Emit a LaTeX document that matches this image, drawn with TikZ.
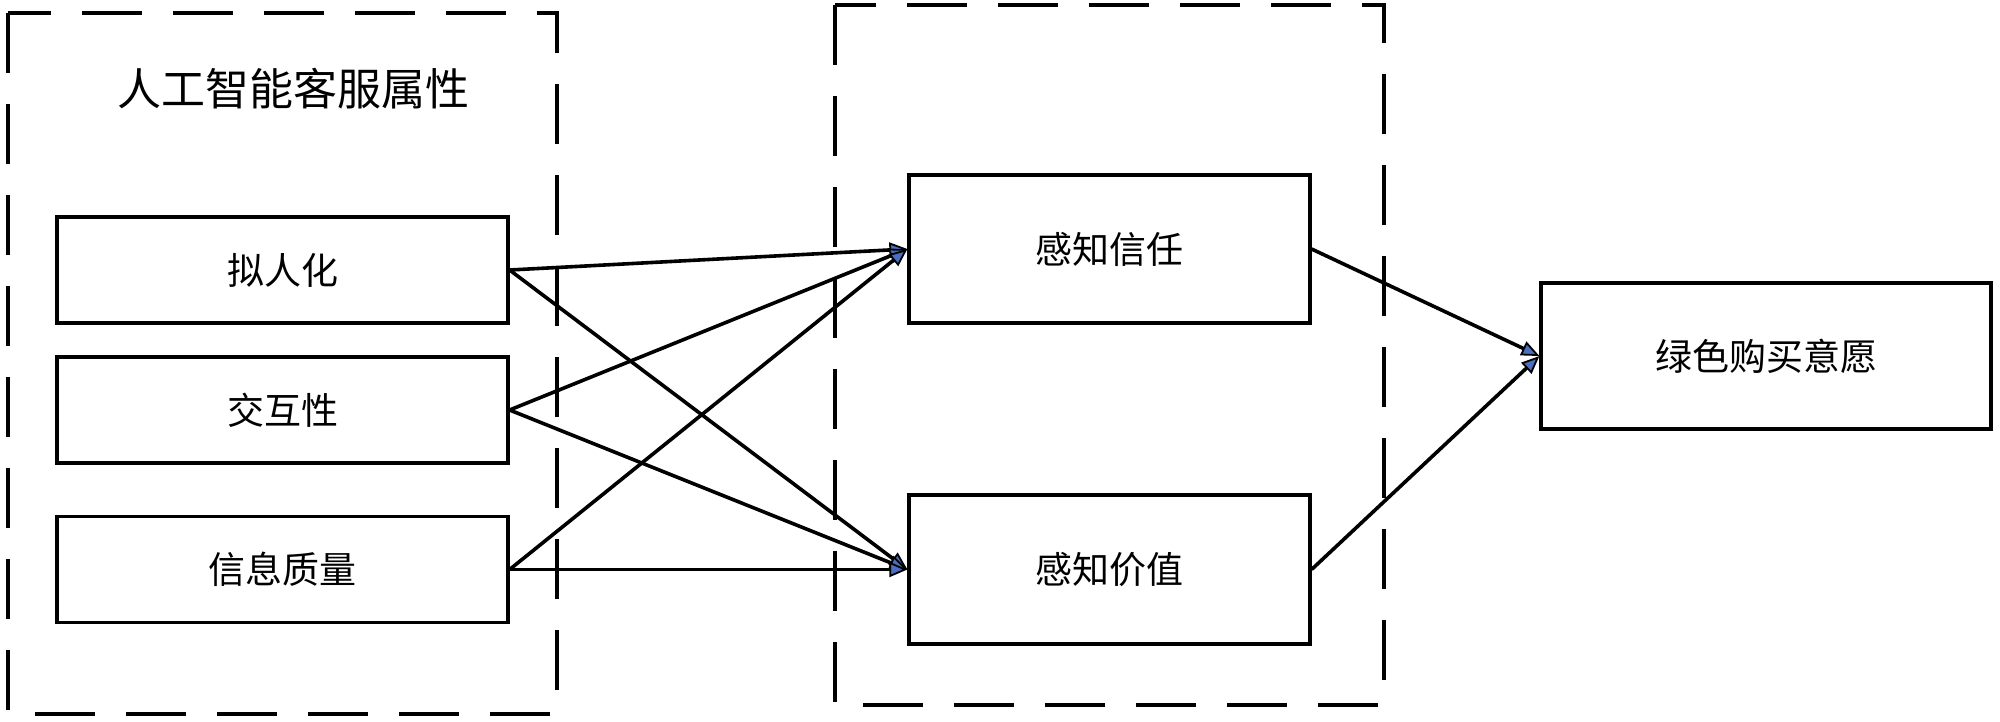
\documentclass[tikz,border=0pt]{standalone}
\usepackage{fontspec}
\newfontfamily\cjk{Noto Sans CJK SC}
\usetikzlibrary{arrows.meta}
\definecolor{tipblue}{HTML}{4A6FC0}
\tikzset{
  box/.style={draw=black, line width=3.2pt, minimum width=452pt, minimum height=106pt, inner sep=0pt, font=\cjk\fontsize{37}{40}\selectfont},
  group/.style={draw=black, line width=4pt, dash pattern=on 60pt off 31pt},
  arr/.style={line width=3.6pt, -{Triangle[length=18pt, width=15pt, fill=tipblue, line width=1.8pt]}}
}
\begin{document}
\begin{tikzpicture}[x=1pt,y=-1pt]
\useasboundingbox (0,0) rectangle (2000,721);
\draw[group] (8,13) rectangle (557,714);
\draw[group] (835,5) rectangle (1384,705);
\node[font=\cjk\fontsize{44}{48}\selectfont] (title) at (293,89) {人工智能客服属性};
\node[box, minimum width=451pt, minimum height=106pt] (a) at (282.5,270) {拟人化};
\node[box, minimum width=451pt, minimum height=106pt] (b) at (282.5,410) {交互性};
\node[box, minimum width=451pt, minimum height=106pt] (c) at (282.5,569.5) {信息质量};
\node[box, minimum width=401pt, minimum height=148pt] (t) at (1109.5,249) {感知信任};
\node[box, minimum width=401pt, minimum height=149pt] (v) at (1109.5,569.5) {感知价值};
\node[box, minimum width=450pt, minimum height=146pt] (g) at (1766,356) {绿色购买意愿};
\draw[arr] (a.east) -- (t.west);
\draw[arr] (a.east) -- (v.west);
\draw[arr] (b.east) -- (t.west);
\draw[arr] (b.east) -- (v.west);
\draw[arr] (c.east) -- (t.west);
\draw[arr] (c.east) -- (v.west);
\draw[arr] (t.east) -- (g.west);
\draw[arr] (v.east) -- (g.west);
\end{tikzpicture}
\end{document}
